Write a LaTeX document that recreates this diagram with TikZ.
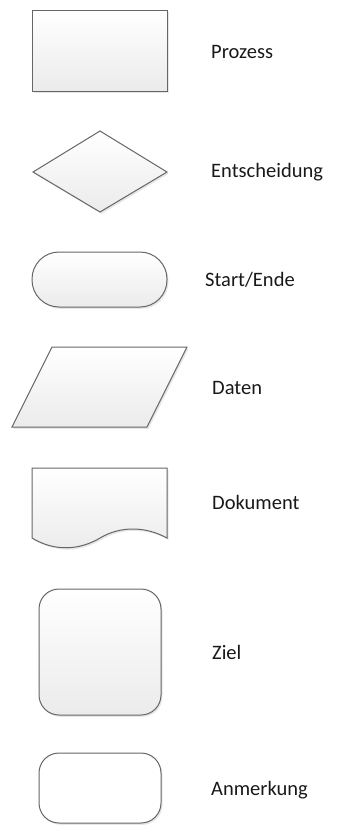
\documentclass[tikz,border=0pt]{standalone}
\usepackage{fontspec}
\setmainfont{Carlito}
\usetikzlibrary{shadows}
\definecolor{edge}{HTML}{666666}
\definecolor{shade}{HTML}{EBEBEB}
\begin{document}
\begin{tikzpicture}[x=1pt,y=-1pt,
  sym/.style={draw=edge, line width=1pt, top color=white, bottom color=shade,
    drop shadow={opacity=0.2, shadow xshift=1.5pt, shadow yshift=-1.8pt}},
  plain/.style={draw=edge, line width=1pt, fill=white,
    drop shadow={opacity=0.2, shadow xshift=1.5pt, shadow yshift=-1.8pt}},
  lbl/.style={anchor=west, inner sep=0pt, font=\fontsize{20.5}{24}\selectfont, text=black!90}]
\useasboundingbox (0,0) rectangle (337,825);

% Prozess
\path[sym] (32,10) rectangle (167,91);
\node[lbl] (prozess) at (211,52) {Prozess};

% Entscheidung
\path[sym] (33,172) -- (100,131) -- (167,172) -- (100,212) -- cycle;
\node[lbl] (entsch) at (211,172) {Entscheidung};

% Start/Ende
\path[sym, rounded corners=27pt] (32,252) rectangle (167,307);
\node[lbl] (start) at (205,280) {Start/Ende};

% Daten
\path[sym] (52,347) -- (187,347) -- (147,427) -- (12,427) -- cycle;
\node[lbl] (daten) at (212,388) {Daten};

% Dokument
\path[sym] (32,468) -- (167,468) -- (167,538)
  .. controls (145,526) and (120,526) .. (100,538)
  .. controls (80,550) and (55,552) .. (32,538) -- cycle;
\node[lbl] (dokument) at (212,502) {Dokument};

% Ziel
\path[sym, rounded corners=20pt] (39,589) rectangle (161,715);
\node[lbl] (ziel) at (212,652) {Ziel};

% Anmerkung
\path[plain, rounded corners=20pt] (39,753) rectangle (161,823);
\node[lbl] (anmerkung) at (211,790) {Anmerkung};
\end{tikzpicture}
\end{document}
